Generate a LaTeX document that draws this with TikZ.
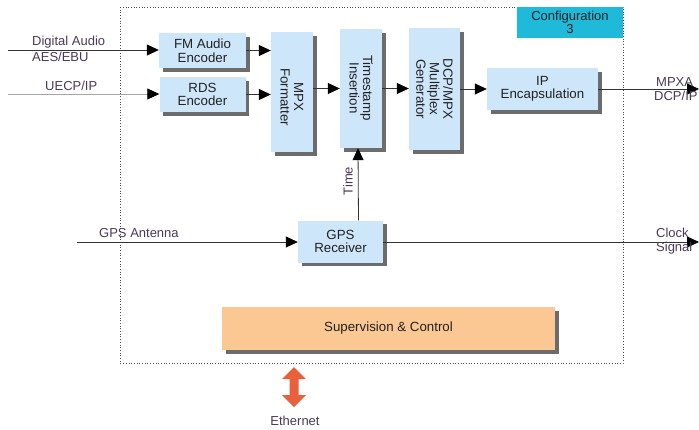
\documentclass[tikz,border=0pt]{standalone}
\usepackage{fontspec}
\setmainfont{Liberation Sans}
\usetikzlibrary{shadows,arrows.meta,calc}
\definecolor{boxblue}{HTML}{CDE6FA}
\definecolor{cfgcyan}{HTML}{1FB9D9}
\definecolor{suporange}{HTML}{FBC792}
\definecolor{ethred}{HTML}{E8603C}
\definecolor{lbl}{HTML}{4A3A5A}
\definecolor{txt}{HTML}{222222}
\begin{document}
\begin{tikzpicture}[x=1pt,y=-1pt,
  font=\fontsize{13.3}{13.5}\selectfont,
  blk/.style={fill=boxblue, draw=none, inner sep=0pt, text=txt, align=center,
    drop shadow={shadow xshift=3.5pt, shadow yshift=-3.5pt, fill=gray!85!black, opacity=1}},
  sblk/.style={blk, fill=suporange},
  con/.style={draw=black!80, line width=0.8pt, -{Triangle[length=12pt,width=11pt,black]}},
  gcon/.style={con, draw=black!35},
  lab/.style={text=lbl, inner sep=0pt, font=\fontsize{13}{13}\selectfont}
]
\useasboundingbox (0,0) rectangle (699,429);
\fill[white] (0,0) rectangle (699,429);

% boundary
\draw[black!70, line width=0.7pt, dotted] (120,7) rectangle (623,363);
\node[fill=cfgcyan, minimum width=106pt, minimum height=31pt, inner sep=0pt, text=txt,
  align=center, font=\fontsize{13}{11}\selectfont] (cfg) at (570,22.5) {Configuration\\3};

% blocks
\node[blk, minimum width=87pt, minimum height=35pt] (fm) at (202.5,50.5) {FM Audio\\Encoder};
\node[blk, minimum width=86pt, minimum height=35pt] (rds) at (202.5,94.5) {RDS\\Encoder};
\node[blk, minimum width=42pt, minimum height=120pt] (mpx) at (292,92) {};
\node[rotate=-90, align=center, text=txt, inner sep=0pt] (mpxt) at (292,97) {MPX\\Formatter};
\node[blk, minimum width=42pt, minimum height=119pt] (ts) at (361,88.5) {};
\node[rotate=-90, align=center, text=txt, inner sep=0pt] (tst) at (361,88) {Timestamp\\Insertion};
\node[blk, minimum width=51pt, minimum height=122pt] (dcp) at (434.5,89) {};
\node[rotate=-90, align=center, text=txt, inner sep=0pt] (dcpt) at (434.5,89) {DCP/MPX\\Multiplex\\Generator};
\node[blk, minimum width=111pt, minimum height=42pt] (ip) at (542.5,89) {IP\\Encapsulation};
\node[blk, minimum width=85pt, minimum height=42pt] (gps) at (340.5,241.5) {GPS\\Receiver};
\node[sblk, minimum width=333pt, minimum height=43pt] (sup) at (388.5,328.5) {Supervision \& Control};

% free ends
\coordinate (inA) at (8,50);
\coordinate (inB) at (8,94);
\coordinate (inG) at (77,242);
\coordinate (outA) at (699,89);
\coordinate (outG) at (699,242);

% connectors
\draw[con] (inA) -- (fm.west |- inA);
\draw[gcon] (inB) -- (rds.west |- inB);
\draw[con] (fm.east) -- (mpx.west |- fm.east);
\draw[con] (rds.east) -- (mpx.west |- rds.east);
\draw[con] (mpx.east |- ts.west) -- (ts.west);
\draw[con] (ts.east) -- (ts.east -| dcp.west);
\draw[con] (dcp.east |- ip.west) -- (ip.west);
\draw[con] (ip.east) -- (outA);
\draw[con] (inG) -- (gps.west |- inG);
\draw[con] (gps.east |- outG) -- (outG);
\draw[con] ($(gps.north)+(18,0)$) -- ($(ts.south)+(-3,0)$);

% labels
\node[lab, anchor=west] (l1) at (32,42) {Digital Audio};
\node[lab, anchor=west] (l2) at (32,57) {AES/EBU};
\node[lab, anchor=west] (l3) at (45,86) {UECP/IP};
\node[lab, anchor=west] (l4) at (99,233) {GPS Antenna};
\node[lab, anchor=west] (l5) at (656,82) {MPXA};
\node[lab, anchor=west] (l6) at (654,96) {DCP/IP};
\node[lab, anchor=west] (l7) at (656,233) {Clock};
\node[lab, anchor=west] (l8) at (656,248) {Signal};
\node[lab, rotate=90] (l9) at (348,181) {Time};
\node[lab] (l10) at (295,421) {Ethernet};

% ethernet double arrow
\fill[ethred] (294,367) -- (306,379) -- (298.5,379) -- (298.5,395) -- (306,395) -- (294,407)
  -- (282,395) -- (289.5,395) -- (289.5,379) -- (282,379) -- cycle;
\end{tikzpicture}
\end{document}
